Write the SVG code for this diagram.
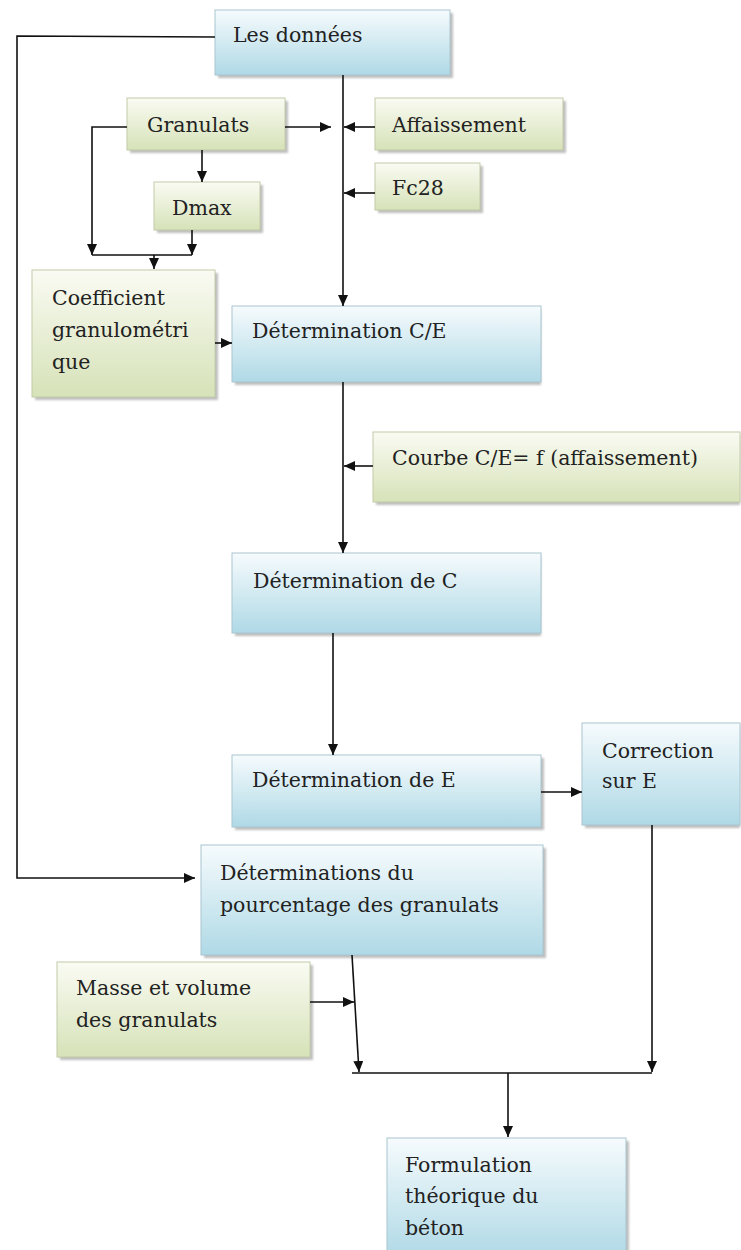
<svg xmlns="http://www.w3.org/2000/svg" width="741" height="1250" viewBox="0 0 741 1250">
<style>
text{font-family:"DejaVu Serif","Liberation Serif",serif;font-size:20.5px;fill:#222}
.g{fill:url(#gg);stroke:#c2cca8;stroke-width:1}
.b{fill:url(#bg);stroke:#a9c6d0;stroke-width:1}
.sh{fill:#8a8a8a;opacity:.55;filter:url(#blur)}
.c{fill:none;stroke:#111;stroke-width:1.6}
.a{marker-end:url(#ah)}
</style>
<defs>
<linearGradient id="gg" x1="0" y1="0" x2="0" y2="1"><stop offset="0" stop-color="#fafbf3"/><stop offset="1" stop-color="#d6e2b8"/></linearGradient>
<linearGradient id="bg" x1="0" y1="0" x2="0" y2="1"><stop offset="0" stop-color="#f6fbfd"/><stop offset="1" stop-color="#afd9e6"/></linearGradient>
<filter id="blur" x="-10%" y="-10%" width="120%" height="130%"><feGaussianBlur stdDeviation="1.3"/></filter>
<marker id="ah" markerUnits="userSpaceOnUse" markerWidth="12" markerHeight="10" refX="11" refY="5" orient="auto"><path d="M0,0 L11,5 L0,10 Z" fill="#111"/></marker>
</defs>

<g id="n-donnees"><rect class="sh" x="218" y="13" width="235" height="65"/><rect class="b" x="215" y="10" width="235" height="65"/><text x="233" y="42">Les données</text></g>
<g id="n-granulats"><rect class="sh" x="130" y="101" width="158" height="52"/><rect class="g" x="127" y="98" width="158" height="52"/><text x="147" y="132">Granulats</text></g>
<g id="n-affaissement"><rect class="sh" x="378" y="101" width="188" height="52"/><rect class="g" x="375" y="98" width="188" height="52"/><text x="392" y="132">Affaissement</text></g>
<g id="n-fc28"><rect class="sh" x="378" y="166" width="105" height="47"/><rect class="g" x="375" y="163" width="105" height="47"/><text x="392" y="195">Fc28</text></g>
<g id="n-dmax"><rect class="sh" x="157" y="185" width="106" height="48"/><rect class="g" x="154" y="182" width="106" height="48"/><text x="172" y="215">Dmax</text></g>
<g id="n-coef"><rect class="sh" x="35" y="273" width="183" height="127"/><rect class="g" x="32" y="270" width="183" height="127"/><text x="52" y="305">Coefficient</text><text x="52" y="337">granulométri</text><text x="52" y="369">que</text></g>
<g id="n-ce"><rect class="sh" x="235" y="309" width="306" height="76"/><rect class="b" x="232" y="306" width="309" height="76"/><text x="252" y="338">Détermination C/E</text></g>
<g id="n-courbe"><rect class="sh" x="376" y="435" width="364" height="70"/><rect class="g" x="373" y="432" width="367" height="70"/><text x="392" y="465">Courbe C/E= f (affaissement)</text></g>
<g id="n-detc"><rect class="sh" x="235" y="556" width="306" height="80"/><rect class="b" x="232" y="553" width="309" height="80"/><text x="253" y="588">Détermination de C</text></g>
<g id="n-dete"><rect class="sh" x="235" y="758" width="309" height="72"/><rect class="b" x="232" y="755" width="309" height="72"/><text x="252" y="787">Détermination de E</text></g>
<g id="n-corr"><rect class="sh" x="585" y="726" width="155" height="102"/><rect class="b" x="582" y="723" width="158" height="102"/><text x="602" y="758">Correction</text><text x="602" y="788">sur E</text></g>
<g id="n-pourc"><rect class="sh" x="204" y="848" width="342" height="110"/><rect class="b" x="201" y="845" width="342" height="110"/><text x="220" y="880">Déterminations du</text><text x="220" y="912">pourcentage des granulats</text></g>
<g id="n-masse"><rect class="sh" x="60" y="965" width="253" height="95"/><rect class="g" x="57" y="962" width="253" height="95"/><text x="76" y="995">Masse et volume</text><text x="76" y="1027">des granulats</text></g>
<g id="n-formul"><rect class="sh" x="390" y="1141" width="239" height="120"/><rect class="b" x="387" y="1138" width="239" height="120"/><text x="405" y="1172">Formulation</text><text x="405" y="1203">théorique du</text><text x="405" y="1235">béton</text></g>

<g id="connectors">
<path class="c a" d="M215,37 L17,36 L17,878 L195,878"/>
<path class="c a" d="M343,75 L343,306"/>
<path class="c a" d="M285,127 L331,127"/>
<path class="c a" d="M375,127 L344,127"/>
<path class="c a" d="M375,193 L344,193"/>
<path class="c a" d="M202,150 L202,182"/>
<path class="c a" d="M127,127 L92,127 L92,255"/>
<path class="c a" d="M192,230 L192,255"/>
<path class="c" d="M92,255 L192,255"/>
<path class="c a" d="M154,255 L154,269"/>
<path class="c a" d="M215,343 L232,343"/>
<path class="c a" d="M343,382 L343,553"/>
<path class="c a" d="M373,466 L344,466"/>
<path class="c a" d="M333,633 L333,755"/>
<path class="c a" d="M541,792 L582,792"/>
<path class="c a" d="M652,825 L652,1072"/>
<path class="c a" d="M352,955 L359,1072"/>
<path class="c a" d="M310,1002 L354,1002"/>
<path class="c" d="M352,1073 L652,1073"/>
<path class="c a" d="M508,1073 L508,1137"/>
</g>
</svg>
